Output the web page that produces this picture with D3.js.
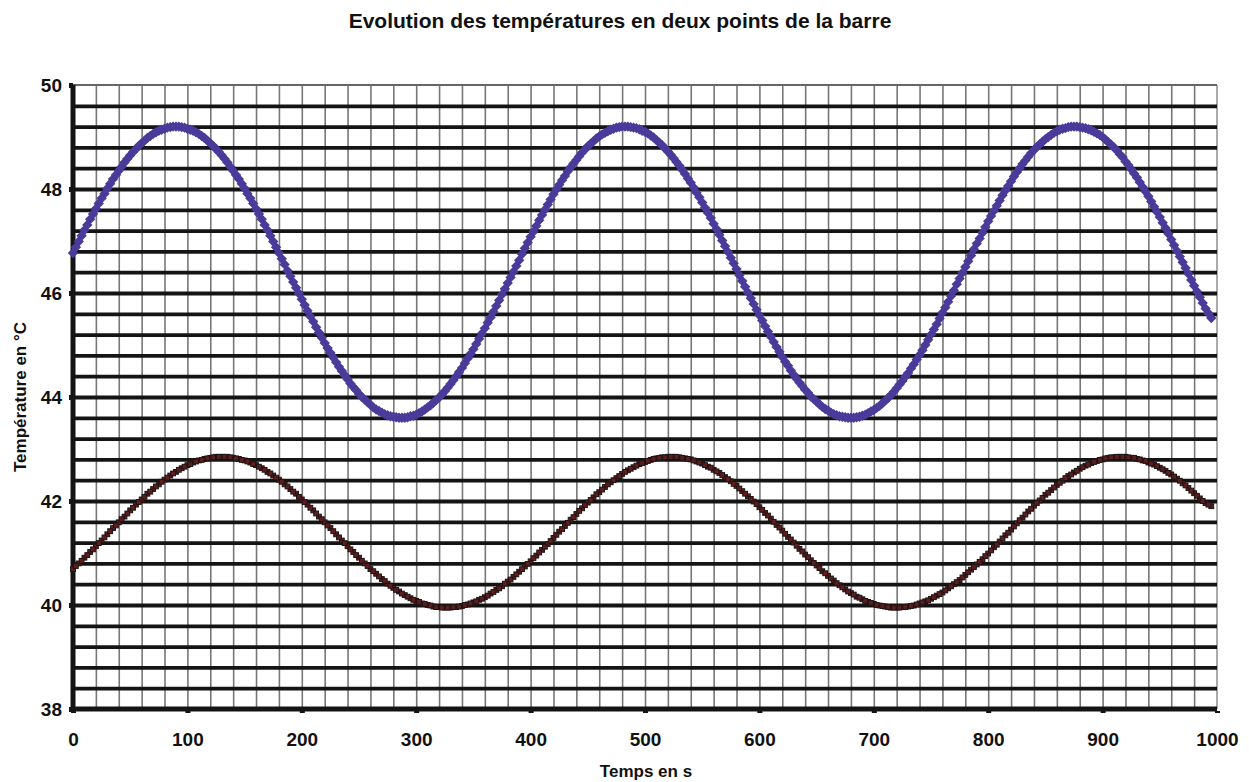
<!DOCTYPE html>
<html>
<head>
<meta charset="utf-8">
<script src="https://cdn.jsdelivr.net/npm/d3@7"></script>
<style>
    html, body { margin: 0; padding: 0; background: #fff; }
    #chart { width: 1249px; height: 782px; }
    text { font-family: "Liberation Sans", Arial, sans-serif; fill: #111; }
</style>
</head>
<body>
<div id="chart"></div>
<script>
// Temps en s : mesures a 0, 5, 10 ... et mesures intermediaires a 2.5, 7.5 ...
const times = [
    0, 5, 10, 15, 20, 25, 30, 35, 40, 45, 50, 55, 60, 65, 70, 75, 80, 85, 90, 95,
    100, 105, 110, 115, 120, 125, 130, 135, 140, 145, 150, 155, 160, 165, 170, 175, 180, 185, 190, 195,
    200, 205, 210, 215, 220, 225, 230, 235, 240, 245, 250, 255, 260, 265, 270, 275, 280, 285, 290, 295,
    300, 305, 310, 315, 320, 325, 330, 335, 340, 345, 350, 355, 360, 365, 370, 375, 380, 385, 390, 395,
    400, 405, 410, 415, 420, 425, 430, 435, 440, 445, 450, 455, 460, 465, 470, 475, 480, 485, 490, 495,
    500, 505, 510, 515, 520, 525, 530, 535, 540, 545, 550, 555, 560, 565, 570, 575, 580, 585, 590, 595,
    600, 605, 610, 615, 620, 625, 630, 635, 640, 645, 650, 655, 660, 665, 670, 675, 680, 685, 690, 695,
    700, 705, 710, 715, 720, 725, 730, 735, 740, 745, 750, 755, 760, 765, 770, 775, 780, 785, 790, 795,
    800, 805, 810, 815, 820, 825, 830, 835, 840, 845, 850, 855, 860, 865, 870, 875, 880, 885, 890, 895,
    900, 905, 910, 915, 920, 925, 930, 935, 940, 945, 950, 955, 960, 965, 970, 975, 980, 985, 990, 995
];
const timesMid = [
    2.5, 7.5, 12.5, 17.5, 22.5, 27.5, 32.5, 37.5, 42.5, 47.5, 52.5, 57.5, 62.5, 67.5, 72.5, 77.5, 82.5, 87.5, 92.5, 97.5,
    102.5, 107.5, 112.5, 117.5, 122.5, 127.5, 132.5, 137.5, 142.5, 147.5, 152.5, 157.5, 162.5, 167.5, 172.5, 177.5, 182.5, 187.5, 192.5, 197.5,
    202.5, 207.5, 212.5, 217.5, 222.5, 227.5, 232.5, 237.5, 242.5, 247.5, 252.5, 257.5, 262.5, 267.5, 272.5, 277.5, 282.5, 287.5, 292.5, 297.5,
    302.5, 307.5, 312.5, 317.5, 322.5, 327.5, 332.5, 337.5, 342.5, 347.5, 352.5, 357.5, 362.5, 367.5, 372.5, 377.5, 382.5, 387.5, 392.5, 397.5,
    402.5, 407.5, 412.5, 417.5, 422.5, 427.5, 432.5, 437.5, 442.5, 447.5, 452.5, 457.5, 462.5, 467.5, 472.5, 477.5, 482.5, 487.5, 492.5, 497.5,
    502.5, 507.5, 512.5, 517.5, 522.5, 527.5, 532.5, 537.5, 542.5, 547.5, 552.5, 557.5, 562.5, 567.5, 572.5, 577.5, 582.5, 587.5, 592.5, 597.5,
    602.5, 607.5, 612.5, 617.5, 622.5, 627.5, 632.5, 637.5, 642.5, 647.5, 652.5, 657.5, 662.5, 667.5, 672.5, 677.5, 682.5, 687.5, 692.5, 697.5,
    702.5, 707.5, 712.5, 717.5, 722.5, 727.5, 732.5, 737.5, 742.5, 747.5, 752.5, 757.5, 762.5, 767.5, 772.5, 777.5, 782.5, 787.5, 792.5, 797.5,
    802.5, 807.5, 812.5, 817.5, 822.5, 827.5, 832.5, 837.5, 842.5, 847.5, 852.5, 857.5, 862.5, 867.5, 872.5, 877.5, 882.5, 887.5, 892.5, 897.5,
    902.5, 907.5, 912.5, 917.5, 922.5, 927.5, 932.5, 937.5, 942.5, 947.5, 952.5, 957.5, 962.5, 967.5, 972.5, 977.5, 982.5, 987.5, 992.5
];

// Point 1 (courbe bleue, losanges)
const point1 = [
    46.77, 46.99, 47.21, 47.42, 47.62, 47.82, 48.01, 48.19, 48.35, 48.51, 48.65, 48.77, 48.88, 48.98, 49.06, 49.12, 49.16, 49.19,
    49.20, 49.19, 49.16, 49.12, 49.06, 48.98, 48.88, 48.77, 48.65, 48.51,
    48.35, 48.19, 48.01, 47.82, 47.62, 47.42, 47.21, 46.99, 46.77, 46.55,
    46.32, 46.10, 45.88, 45.66, 45.45, 45.24, 45.04, 44.85, 44.67, 44.50,
    44.34, 44.19, 44.06, 43.95, 43.85, 43.76, 43.70, 43.65, 43.62, 43.60,
    43.60, 43.63, 43.66, 43.72, 43.80, 43.89, 43.99, 44.11, 44.25, 44.40,
    44.56, 44.74, 44.92, 45.12, 45.32, 45.53, 45.75, 45.97, 46.19, 46.41,
    46.63, 46.86, 47.08, 47.29, 47.50, 47.70, 47.90, 48.08, 48.25, 48.42,
    48.56, 48.70, 48.82, 48.92, 49.01, 49.08, 49.14, 49.18, 49.20, 49.20,
    49.18, 49.15, 49.10, 49.03, 48.94, 48.84, 48.72, 48.59, 48.45, 48.29,
    48.12, 47.93, 47.74, 47.54, 47.33, 47.12, 46.90, 46.68, 46.46, 46.23,
    46.01, 45.79, 45.57, 45.36, 45.16, 44.96, 44.77, 44.60, 44.43, 44.28,
    44.14, 44.01, 43.91, 43.81, 43.74, 43.67, 43.63, 43.61, 43.60, 43.61,
    43.64, 43.69, 43.75, 43.83, 43.93, 44.04, 44.17, 44.31, 44.46, 44.63,
    44.81, 45.00, 45.20, 45.40, 45.62, 45.83, 46.05, 46.28, 46.50, 46.72,
    46.95, 47.16, 47.38, 47.58, 47.78, 47.97, 48.15, 48.32, 48.48, 48.62,
    48.75, 48.86, 48.96, 49.04, 49.11, 49.16, 49.19, 49.20, 49.19, 49.17,
    49.13, 49.07, 49.00, 48.90, 48.80, 48.67, 48.53, 48.38, 48.22, 48.04,
    47.86, 47.66, 47.46, 47.25, 47.03, 46.81, 46.59, 46.37, 46.14, 45.92,
    45.70, 45.52
];
const point1Mid = [
    46.88, 47.10, 47.31, 47.52, 47.72, 47.91, 48.10, 48.27, 48.43, 48.58, 48.71, 48.83, 48.93, 49.02, 49.09, 49.14, 49.18, 49.20,
    49.20, 49.18, 49.14, 49.09, 49.02, 48.93, 48.83, 48.71, 48.58, 48.43,
    48.27, 48.10, 47.91, 47.72, 47.52, 47.31, 47.10, 46.88, 46.66, 46.43,
    46.21, 45.99, 45.77, 45.55, 45.34, 45.14, 44.94, 44.76, 44.58, 44.42,
    44.26, 44.13, 44.00, 43.90, 43.80, 43.73, 43.67, 43.63, 43.61, 43.60,
    43.61, 43.64, 43.69, 43.76, 43.84, 43.94, 44.05, 44.18, 44.32, 44.48,
    44.65, 44.83, 45.02, 45.22, 45.43, 45.64, 45.86, 46.08, 46.30, 46.52,
    46.75, 46.97, 47.18, 47.40, 47.60, 47.80, 47.99, 48.17, 48.34, 48.49,
    48.63, 48.76, 48.87, 48.97, 49.05, 49.11, 49.16, 49.19, 49.20, 49.19,
    49.17, 49.12, 49.07, 48.99, 48.89, 48.78, 48.66, 48.52, 48.37, 48.20,
    48.03, 47.84, 47.64, 47.44, 47.23, 47.01, 46.79, 46.57, 46.34, 46.12,
    45.90, 45.68, 45.47, 45.26, 45.06, 44.87, 44.68, 44.51, 44.35, 44.21,
    44.08, 43.96, 43.86, 43.77, 43.70, 43.65, 43.62, 43.60, 43.60, 43.62,
    43.66, 43.72, 43.79, 43.88, 43.98, 44.10, 44.24, 44.39, 44.55, 44.72,
    44.90, 45.10, 45.30, 45.51, 45.72, 45.94, 46.17, 46.39, 46.61, 46.84,
    47.05, 47.27, 47.48, 47.68, 47.88, 48.06, 48.24, 48.40, 48.55, 48.69,
    48.81, 48.91, 49.00, 49.08, 49.14, 49.17, 49.20, 49.20, 49.18, 49.15,
    49.10, 49.04, 48.95, 48.85, 48.74, 48.61, 48.46, 48.30, 48.13, 47.95,
    47.76, 47.56, 47.35, 47.14, 46.92, 46.70, 46.48, 46.25, 46.03, 45.81,
    45.61
];

// Point 2 (courbe noire, petits carres)
const point2 = [
    40.69, 40.80, 40.91, 41.02, 41.13, 41.24, 41.36, 41.48, 41.59, 41.70, 41.82, 41.93, 42.03,
    42.14, 42.23, 42.32, 42.41, 42.49, 42.56, 42.63, 42.69, 42.74, 42.78, 42.81, 42.83, 42.85,
    42.85, 42.85, 42.83, 42.81, 42.78, 42.74, 42.69, 42.63, 42.56, 42.49,
    42.41, 42.32, 42.23, 42.14, 42.03, 41.93, 41.82, 41.70, 41.59, 41.48,
    41.36, 41.24, 41.13, 41.02, 40.91, 40.80, 40.69, 40.60, 40.50, 40.41,
    40.33, 40.26, 40.19, 40.13, 40.08, 40.03, 40.00, 39.97, 39.96, 39.95,
    39.95, 39.96, 39.98, 40.01, 40.05, 40.10, 40.15, 40.22, 40.29, 40.36,
    40.45, 40.54, 40.64, 40.74, 40.84, 40.95, 41.06, 41.17, 41.29, 41.41,
    41.52, 41.64, 41.75, 41.86, 41.97, 42.07, 42.17, 42.27, 42.36, 42.44,
    42.52, 42.59, 42.65, 42.71, 42.75, 42.79, 42.82, 42.84, 42.85, 42.85,
    42.84, 42.82, 42.80, 42.76, 42.72, 42.66, 42.60, 42.54, 42.46, 42.38,
    42.29, 42.19, 42.09, 41.99, 41.88, 41.77, 41.66, 41.54, 41.43, 41.31,
    41.20, 41.08, 40.97, 40.86, 40.76, 40.65, 40.56, 40.47, 40.38, 40.30,
    40.23, 40.16, 40.11, 40.06, 40.02, 39.99, 39.97, 39.95, 39.95, 39.96,
    39.97, 39.99, 40.03, 40.07, 40.12, 40.18, 40.24, 40.32, 40.40, 40.48,
    40.58, 40.68, 40.78, 40.88, 40.99, 41.11, 41.22, 41.34, 41.45, 41.57,
    41.68, 41.80, 41.91, 42.01, 42.12, 42.21, 42.31, 42.39, 42.48, 42.55,
    42.62, 42.68, 42.73, 42.77, 42.80, 42.83, 42.84, 42.85, 42.85, 42.83,
    42.81, 42.78, 42.74, 42.70, 42.64, 42.58, 42.51, 42.43, 42.34, 42.25,
    42.15, 42.05, 41.96, 41.90
];
const point2Mid = [
    40.75, 40.85, 40.96, 41.07, 41.19, 41.30, 41.42, 41.53, 41.65, 41.76, 41.87, 41.98, 42.08,
    42.18, 42.28, 42.37, 42.45, 42.53, 42.60, 42.66, 42.71, 42.76, 42.79, 42.82, 42.84, 42.85,
    42.85, 42.84, 42.82, 42.79, 42.76, 42.71, 42.66, 42.60, 42.53, 42.45,
    42.37, 42.28, 42.18, 42.08, 41.98, 41.87, 41.76, 41.65, 41.53, 41.42,
    41.30, 41.19, 41.07, 40.96, 40.85, 40.75, 40.65, 40.55, 40.46, 40.37,
    40.29, 40.22, 40.16, 40.10, 40.06, 40.02, 39.99, 39.96, 39.95, 39.95,
    39.96, 39.97, 40.00, 40.03, 40.07, 40.12, 40.18, 40.25, 40.32, 40.41,
    40.49, 40.59, 40.69, 40.79, 40.90, 41.01, 41.12, 41.23, 41.35, 41.46,
    41.58, 41.69, 41.81, 41.92, 42.02, 42.13, 42.22, 42.32, 42.40, 42.48,
    42.56, 42.62, 42.68, 42.73, 42.77, 42.81, 42.83, 42.84, 42.85, 42.85,
    42.83, 42.81, 42.78, 42.74, 42.69, 42.64, 42.57, 42.50, 42.42, 42.33,
    42.24, 42.14, 42.04, 41.94, 41.83, 41.72, 41.60, 41.49, 41.37, 41.26,
    41.14, 41.03, 40.92, 40.81, 40.71, 40.61, 40.51, 40.42, 40.34, 40.26,
    40.20, 40.14, 40.08, 40.04, 40.00, 39.98, 39.96, 39.95, 39.95, 39.96,
    39.98, 40.01, 40.05, 40.09, 40.15, 40.21, 40.28, 40.36, 40.44, 40.53,
    40.63, 40.73, 40.83, 40.94, 41.05, 41.16, 41.28, 41.39, 41.51, 41.63,
    41.74, 41.85, 41.96, 42.06, 42.16, 42.26, 42.35, 42.44, 42.51, 42.58,
    42.65, 42.70, 42.75, 42.79, 42.82, 42.84, 42.85, 42.85, 42.84, 42.83,
    42.80, 42.77, 42.72, 42.67, 42.61, 42.54, 42.47, 42.39, 42.30, 42.20,
    42.10, 42.00, 41.93
];

const xTicks = [0, 100, 200, 300, 400, 500, 600, 700, 800, 900, 1000];
const yTicks = [38, 40, 42, 44, 46, 48, 50];

const titleText = 'Evolution des températures en deux points de la barre';
const xLabel = 'Temps en s';
const yLabel = 'Température en °C';

// Dimensions
const margin = { top: 85, right: 32, bottom: 73, left: 73 };
const totalW = 1249, totalH = 782;
const width = totalW - margin.left - margin.right;
const height = totalH - margin.top - margin.bottom;

const svg = d3.select('#chart')
    .append('svg')
    .attr('width', totalW)
    .attr('height', totalH);

const g = svg.append('g')
    .attr('transform', `translate(${margin.left},${margin.top})`);

const xScale = d3.scaleLinear().domain([0, 1000]).range([0, width]);
const yScale = d3.scaleLinear().domain([38, 50]).range([height, 0]);

// Vertical grid (every 20 s)
g.append('g')
    .attr('class', 'x-grid')
    .call(d3.axisBottom(xScale).tickValues(d3.range(20, 1000, 20)).tickSize(height).tickFormat(''))
    .call(s => s.select('.domain').remove())
    .call(s => s.selectAll('.tick line').attr('stroke', '#777').attr('stroke-width', 1.6));

// Right border
g.append('line')
    .attr('x1', xScale(1000)).attr('x2', xScale(1000))
    .attr('y1', 0).attr('y2', height)
    .attr('stroke', '#aaa').attr('stroke-width', 2);

// Horizontal grid (every 0.4 degree)
g.append('g')
    .attr('class', 'y-grid')
    .call(d3.axisLeft(yScale).tickValues(d3.range(1, 30).map(i => 38 + i * 0.4)).tickSize(-width).tickFormat(''))
    .call(s => s.select('.domain').remove())
    .call(s => s.selectAll('.tick line').attr('stroke', '#141414').attr('stroke-width', 3.8));

// Top border at 50
g.append('line')
    .attr('x1', 0).attr('x2', width)
    .attr('y1', yScale(50)).attr('y2', yScale(50))
    .attr('stroke', '#666').attr('stroke-width', 2.2);

// Axes
g.append('g')
    .attr('class', 'y-axis')
    .call(d3.axisLeft(yScale).tickValues(yTicks).tickSize(4).tickPadding(7))
    .call(s => s.select('.domain').attr('stroke', '#141414').attr('stroke-width', 5).attr('d', `M0,${height + 2}V0`))
    .call(s => s.selectAll('.tick line').attr('stroke', '#141414').attr('stroke-width', 5))
    .call(s => s.selectAll('.tick text').style('font-size', '19px').style('font-weight', 'bold')
        .attr('fill', '#111').attr('dy', '0.36em'));

g.append('g')
    .attr('class', 'x-axis')
    .attr('transform', `translate(0,${height})`)
    .call(d3.axisBottom(xScale).tickValues(xTicks).tickFormat(d3.format('d')).tickSize(4).tickPadding(20))
    .call(s => s.select('.domain').attr('stroke', '#141414').attr('stroke-width', 5).attr('d', `M-2,0H${width}`))
    .call(s => s.selectAll('.tick line').attr('stroke', '#141414').attr('stroke-width', 5).attr('y1', 2))
    .call(s => s.selectAll('.tick text').style('font-size', '19px').style('font-weight', 'bold').attr('fill', '#111'));

// Series
const series1 = times.map((t, i) => ({ t, v: point1[i] }))
    .concat(timesMid.map((t, i) => ({ t, v: point1Mid[i] })));
const series2 = times.map((t, i) => ({ t, v: point2[i] }))
    .concat(timesMid.map((t, i) => ({ t, v: point2Mid[i] })));

g.append('g')
    .attr('class', 'series-2')
    .selectAll('rect')
    .data(series2)
    .enter()
    .append('rect')
    .attr('x', d => xScale(d.t) - 2.4)
    .attr('y', d => yScale(d.v) - 2.4)
    .attr('width', 4.8)
    .attr('height', 4.8)
    .attr('fill', '#5e1c1c')
    .attr('stroke', '#1c1414')
    .attr('stroke-width', 1);

const diamond = d3.symbol().type(d3.symbolSquare).size(54);
g.append('g')
    .attr('class', 'series-1')
    .selectAll('path')
    .data(series1)
    .enter()
    .append('path')
    .attr('d', diamond)
    .attr('transform', d => `translate(${xScale(d.t)},${yScale(d.v)}) rotate(45)`)
    .attr('fill', '#4a3a9a');

// Titles
svg.append('text')
    .attr('x', 620)
    .attr('y', 28)
    .attr('text-anchor', 'middle')
    .style('font-size', '21px')
    .style('font-weight', 'bold')
    .text(titleText);

svg.append('text')
    .attr('x', 646)
    .attr('y', 777)
    .attr('text-anchor', 'middle')
    .style('font-size', '17px')
    .style('font-weight', 'bold')
    .text(xLabel);

svg.append('text')
    .attr('transform', 'translate(26,397) rotate(-90)')
    .attr('text-anchor', 'middle')
    .style('font-size', '17px')
    .style('font-weight', 'bold')
    .text(yLabel);
</script>
</body>
</html>
